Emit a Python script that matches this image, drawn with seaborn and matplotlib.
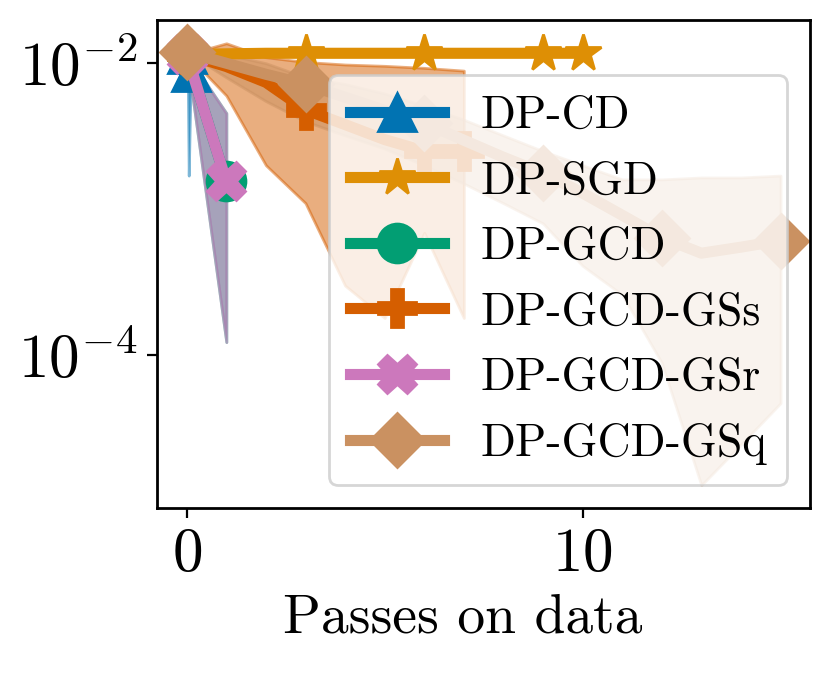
import seaborn as sns
import matplotlib.pyplot as plt
from matplotlib.ticker import NullLocator, FixedLocator

# Values (relative error vs passes on data)
passes_cd = [0, 0.025, 0.05, 0.075, 0.1]
cd_mean = [1.15e-2, 1.0e-2, 9.5e-3, 9.0e-3, 8.7e-3]
cd_low = [1.15e-2, 9.0e-3, 1.7e-3, 3.8e-3, 8.0e-3]
cd_high = [1.15e-2, 1.05e-2, 1.0e-2, 9.4e-3, 9.1e-3]

passes_sgd = [0, 1, 2, 3, 4, 5, 6, 7, 8, 9, 10]
sgd_mean = [1.15e-2, 1.16e-2, 1.17e-2, 1.17e-2, 1.17e-2, 1.17e-2, 1.17e-2, 1.17e-2, 1.17e-2, 1.17e-2, 1.17e-2]
sgd_low = [1.15e-2, 1.12e-2, 1.13e-2, 1.13e-2, 1.13e-2, 1.13e-2, 1.13e-2, 1.13e-2, 1.13e-2, 1.13e-2, 1.13e-2]
sgd_high = [1.15e-2, 1.2e-2, 1.21e-2, 1.21e-2, 1.21e-2, 1.21e-2, 1.21e-2, 1.21e-2, 1.21e-2, 1.21e-2, 1.21e-2]

passes_gcd = [0, 1]
gcd_mean = [1.15e-2, 1.55e-3]
gcd_low = [1.15e-2, 1.23e-4]
gcd_high = [1.15e-2, 4.55e-3]

passes_gss = [0, 1, 2, 3, 4, 5, 6, 7]
gss_mean = [1.15e-2, 9.5e-3, 7.4e-3, 4.8e-3, 3.8e-3, 3.0e-3, 2.5e-3, 2.5e-3]
gss_low = [1.15e-2, 6.0e-3, 2.0e-3, 1.1e-3, 3.0e-4, 1.8e-4, 6.9e-4, 1.8e-4]
gss_high = [1.15e-2, 1.37e-2, 1.1e-2, 1.02e-2, 9.8e-3, 9.6e-3, 9.3e-3, 8.9e-3]

passes_gsr = [0, 1]
gsr_mean = [1.15e-2, 1.55e-3]
gsr_low = [1.15e-2, 1.23e-4]
gsr_high = [1.15e-2, 4.55e-3]

passes_gsq = [0, 1, 2, 3, 4, 5, 6, 7, 8, 9, 10, 11, 12, 13, 14, 15]
gsq_mean = [1.19e-2, 1.0e-2, 8.4e-3, 7.2e-3, 5.85e-3, 4.76e-3, 3.9e-3, 2.97e-3,
            2.27e-3, 1.77e-3, 1.29e-3, 9.1e-4, 6.4e-4, 5.0e-4, 5.5e-4, 6.1e-4]
gsq_low = [1.19e-2, 8.0e-3, 5.5e-3, 4.0e-3, 3.2e-3, 2.6e-3, 2.0e-3, 1.5e-3,
           1.1e-3, 8.0e-4, 4.1e-4, 2.6e-4, 8.9e-5, 1.29e-5, 2.45e-5, 4.7e-5]
gsq_high = [1.19e-2, 1.15e-2, 1.0e-2, 8.0e-3, 7.2e-3, 6.2e-3, 5.1e-3, 4.1e-3,
            3.2e-3, 2.5e-3, 2.0e-3, 1.6e-3, 1.6e-3, 1.65e-3, 1.65e-3, 1.7e-3]

labels = ["DP-CD", "DP-SGD", "DP-GCD", "DP-GCD-GSs", "DP-GCD-GSr", "DP-GCD-GSq"]

plt.rcParams['font.family'] = 'serif'
plt.rcParams['font.serif'] = ['cmr10']
plt.rcParams['mathtext.fontset'] = 'cm'
plt.rcParams['axes.formatter.use_mathtext'] = True

colors = sns.color_palette("colorblind")

series = [
    (passes_cd, cd_mean, cd_low, cd_high, "^", [0, 4]),
    (passes_sgd, sgd_mean, sgd_low, sgd_high, "*", [0, 3, 6, 9, 10]),
    (passes_gcd, gcd_mean, gcd_low, gcd_high, "o", [0, 1]),
    (passes_gss, gss_mean, gss_low, gss_high, "P", [0, 3, 6, 7]),
    (passes_gsr, gsr_mean, gsr_low, gsr_high, "X", [0, 1]),
    (passes_gsq, gsq_mean, gsq_low, gsq_high, "D", [0, 3, 6, 9, 12, 15]),
]

fig, ax = plt.subplots(figsize=(4.155, 3.375), dpi=200)
fig.subplots_adjust(left=0.189, right=0.975, bottom=0.247, top=0.970)

for i, (x, mean, low, high, mk, every) in enumerate(series):
    c = colors[i]
    ax.fill_between(x, low, high, color=c, alpha=0.5)
    sns.lineplot(x=x, y=mean, ax=ax, color=c, marker=mk, markevery=every,
                 markersize=14, markeredgecolor=c, markeredgewidth=1,
                 linewidth=4, label=labels[i])

ax.set_yscale("log")
ax.set_ylim(8.95e-6, 1.97e-2)
ax.yaxis.set_minor_locator(NullLocator())
ax.xaxis.set_major_locator(FixedLocator([0, 10]))
ax.tick_params(labelsize=22)
for s in ax.spines.values():
    s.set_linewidth(1.0)
ax.set_xlabel("Passes on data", fontsize=20)
ax.xaxis.set_label_coords(0.468, -0.175)
ax.set_ylabel("")

ax.legend(loc="lower right", fontsize=16.5, handlelength=2.05,
          labelspacing=0.52, borderpad=0.45, framealpha=0.8)

fig.savefig("out.png", dpi=200)
